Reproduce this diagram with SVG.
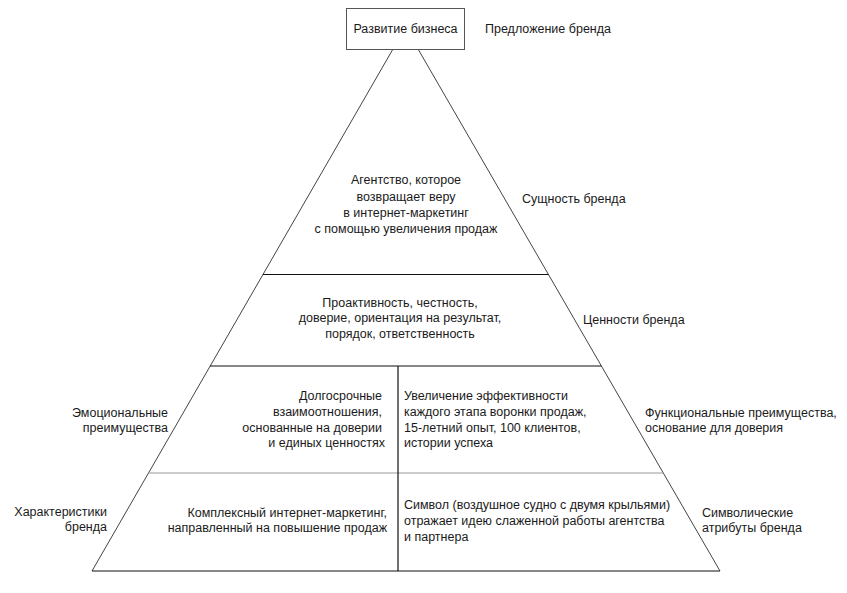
<svg xmlns="http://www.w3.org/2000/svg" width="847" height="593" viewBox="0 0 847 593">
<style>
text{font-family:"Liberation Sans","Noto Sans",sans-serif;font-size:12.5px;fill:#1a1a1a}
.c{text-anchor:middle}
.r{text-anchor:end}
.edge{stroke:#444;stroke-width:1;fill:none}
.dark{stroke:#111;stroke-width:1.2;fill:none}
.light{stroke:#999;stroke-width:1.2;fill:none}
</style>
<rect width="847" height="593" fill="#fff"/>
<g id="connectors">
<line class="edge" x1="393" y1="49" x2="92" y2="571"/>
<line class="edge" x1="418" y1="49" x2="720" y2="571"/>
<line class="dark" x1="263" y1="274.5" x2="548.5" y2="274.5"/>
<line class="dark" x1="210" y1="366" x2="601.5" y2="366"/>
<line class="light" x1="148.5" y1="473" x2="663.5" y2="473"/>
<line class="dark" x1="92" y1="571" x2="720" y2="571"/>
<line class="dark" x1="398" y1="366" x2="398" y2="571"/>
</g>
<g id="node-top">
<rect x="346.5" y="8.5" width="118" height="41" fill="#fff" stroke="#555" stroke-width="1"/>
<text class="c" x="405.5" y="33">Развитие бизнеса</text>
</g>
<g id="label-offer"><text x="485" y="33">Предложение бренда</text></g>
<g id="node-essence">
<text class="c" x="406" y="184">Агентство, которое</text>
<text class="c" x="406" y="201">возвращает веру</text>
<text class="c" x="406" y="217">в интернет-маркетинг</text>
<text class="c" x="406" y="233">с помощью увеличения продаж</text>
</g>
<g id="label-essence"><text x="522" y="203">Сущность бренда</text></g>
<g id="node-values">
<text class="c" x="400" y="307">Проактивность, честность,</text>
<text class="c" x="400" y="322">доверие, ориентация на результат,</text>
<text class="c" x="400" y="338">порядок, ответственность</text>
</g>
<g id="label-values"><text x="583" y="324">Ценности бренда</text></g>
<g id="node-emotional">
<text class="r" x="382" y="400">Долгосрочные</text>
<text class="r" x="382" y="416">взаимоотношения,</text>
<text class="r" x="382" y="432">основанные на доверии</text>
<text class="r" x="385" y="447">и единых ценностях</text>
</g>
<g id="node-functional">
<text x="404" y="400">Увеличение эффективности</text>
<text x="404" y="416">каждого этапа воронки продаж,</text>
<text x="404" y="432">15-летний опыт, 100 клиентов,</text>
<text x="404" y="447">истории успеха</text>
</g>
<g id="label-emotional">
<text class="r" x="168" y="417">Эмоциональные</text>
<text class="r" x="168" y="432">преимущества</text>
</g>
<g id="label-functional">
<text x="645" y="417">Функциональные преимущества,</text>
<text x="645" y="432">основание для доверия</text>
</g>
<g id="node-characteristics">
<text class="r" x="387" y="517">Комплексный интернет-маркетинг,</text>
<text class="r" x="387" y="532">направленный на повышение продаж</text>
</g>
<g id="node-symbol">
<text x="404" y="509">Символ (воздушное судно с двумя крыльями)</text>
<text x="404" y="525">отражает идею слаженной работы агентства</text>
<text x="404" y="541">и партнера</text>
</g>
<g id="label-characteristics">
<text class="r" x="107" y="516">Характеристики</text>
<text class="r" x="107" y="531">бренда</text>
</g>
<g id="label-symbol">
<text x="702" y="517">Символические</text>
<text x="702" y="532">атрибуты бренда</text>
</g>
</svg>
